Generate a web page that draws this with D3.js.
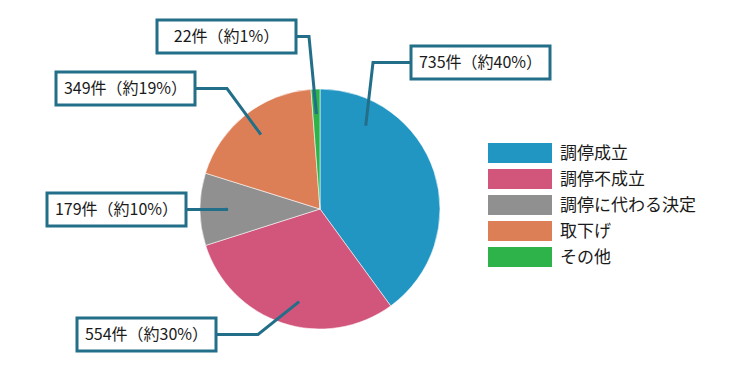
<!DOCTYPE html>
<html>
<head>
<meta charset="utf-8">
<script src="https://cdn.jsdelivr.net/npm/d3@7"></script>
<style>
  body { margin: 0; background: #fff; }
  text { font-family: "Noto Sans CJK JP", "Noto Sans", sans-serif; }
</style>
</head>
<body>
<div id="chart"></div>
<script>
// data
const categories = ["調停成立", "調停不成立", "調停に代わる決定", "取下げ", "その他"];
const counts = [735, 554, 179, 349, 22];
const colors = ["#2196C3", "#D2557B", "#909090", "#DD7F56", "#2EB34B"];

// label box layout (box left/top, elbow x, where along the slice the leader ends)
const labelLayout = [
  { x: 411, y: 46, elbow: 373, at: 0.2 },
  { x: 77, y: 318, elbow: 258, at: 0.45 },
  { x: 47, y: 193, elbow: 228, at: 0.5 },
  { x: 56, y: 72, elbow: 227, at: 0.5 },
  { x: 157, y: 20, elbow: 309, at: 0.5 }
];

const width = 750, height = 371;
const cx = 320, cy = 209, radius = 120;

const svg = d3.select("#chart").append("svg")
  .attr("width", width)
  .attr("height", height);

const total = d3.sum(counts);
const pie = d3.pie().sort(null).value(d => d)(counts);
const arc = d3.arc().innerRadius(0).outerRadius(radius);

const g = svg.append("g").attr("transform", `translate(${cx},${cy})`);

g.selectAll("path")
  .data(pie)
  .join("path")
  .attr("d", arc)
  .attr("fill", (d, i) => colors[i])
  .attr("stroke", "#fff")
  .attr("stroke-width", 0.8)
  .attr("stroke-opacity", 0.7);

// leader lines + boxes
const lineColor = "#236F89";
const boxW = 139, boxH = 33;

pie.forEach((d, i) => {
  const L = labelLayout[i];
  const a = d.startAngle + (d.endAngle - d.startAngle) * L.at;
  const r = 95;
  const ax = cx + r * Math.sin(a), ay = cy - r * Math.cos(a);
  const midY = L.y + boxH / 2;
  const boxRight = L.x > cx;
  const edgeX = boxRight ? L.x : L.x + boxW;

  svg.append("path")
    .attr("d", d3.line()([[edgeX, midY], [L.elbow, midY], [ax, ay]]))
    .attr("fill", "none")
    .attr("stroke", lineColor)
    .attr("stroke-width", 3);

  svg.append("rect")
    .attr("x", L.x)
    .attr("y", L.y)
    .attr("width", boxW)
    .attr("height", boxH)
    .attr("fill", "#fff")
    .attr("stroke", lineColor)
    .attr("stroke-width", 3);

  const pct = Math.round(counts[i] / total * 100);
  svg.append("text")
    .attr("x", L.x + boxW / 2)
    .attr("y", midY)
    .attr("dy", "0.35em")
    .attr("text-anchor", "middle")
    .attr("font-size", 16)
    .attr("fill", "#1a1a1a")
    .text(`${counts[i]}件（約${pct}%）`);
});

// legend
const legend = svg.append("g").attr("transform", "translate(488,143)");
const row = legend.selectAll("g")
  .data(categories)
  .join("g")
  .attr("transform", (d, i) => `translate(0,${i * 26})`);

row.append("rect")
  .attr("width", 64)
  .attr("height", 20)
  .attr("fill", (d, i) => colors[i]);

row.append("text")
  .attr("x", 72)
  .attr("y", 10)
  .attr("dy", "0.35em")
  .attr("font-size", 17)
  .attr("fill", "#1a1a1a")
  .text(d => d);
</script>
</body>
</html>
